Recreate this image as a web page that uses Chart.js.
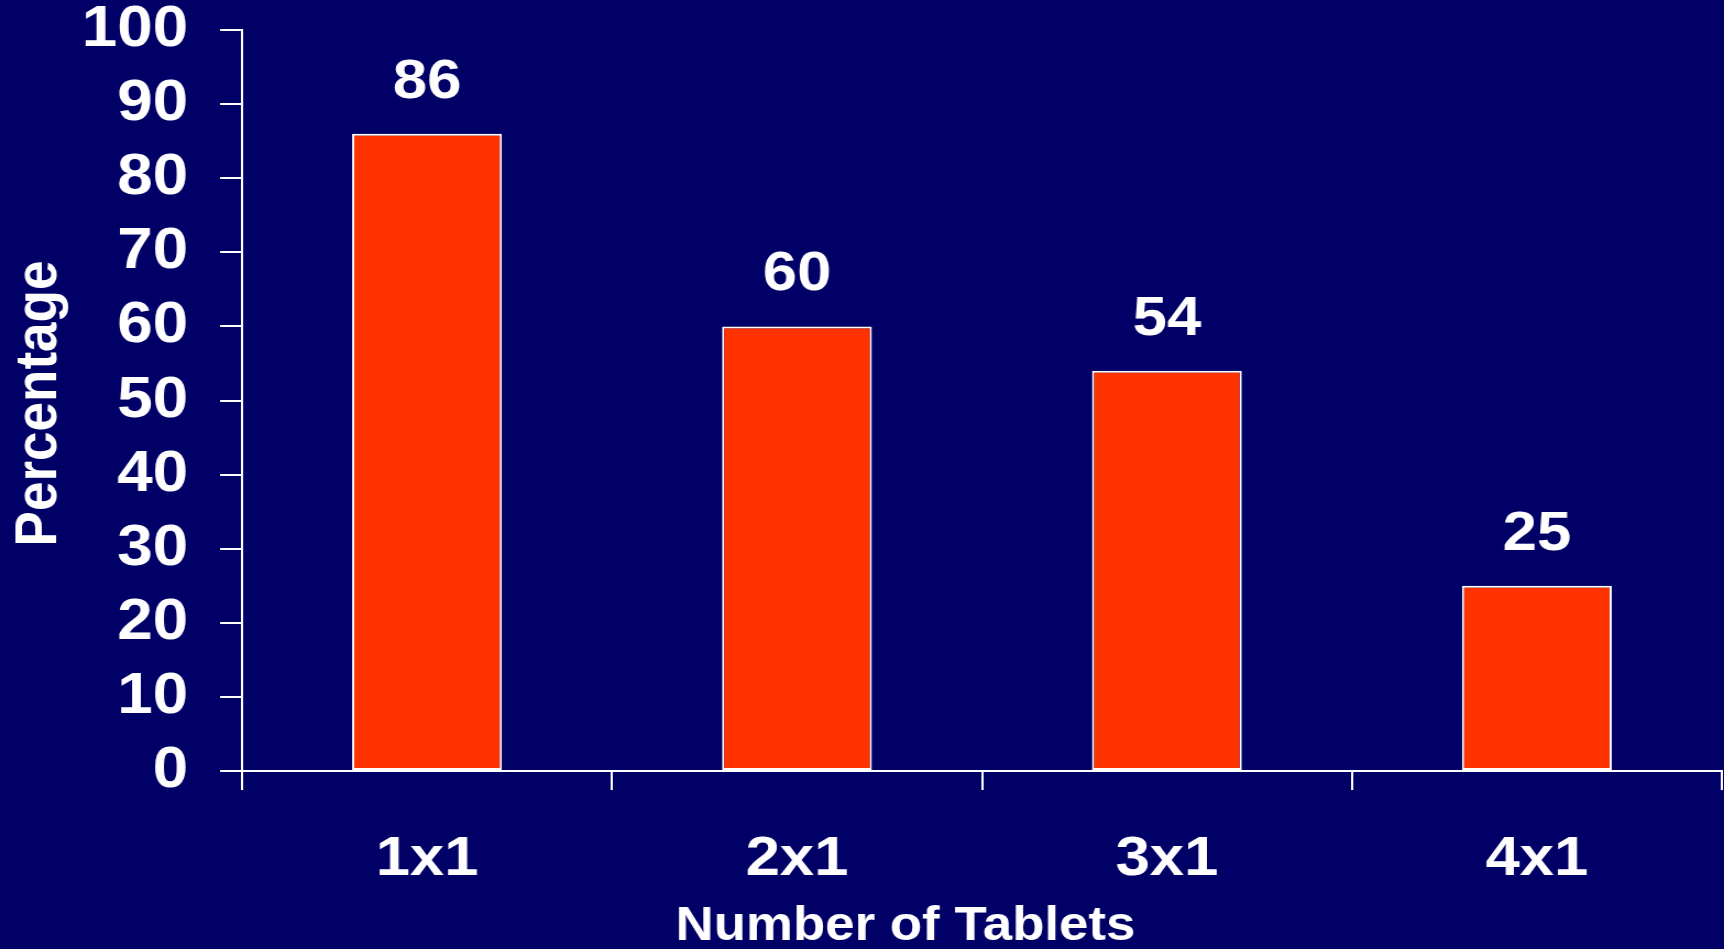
<!DOCTYPE html>
<html>
<head>
<meta charset="utf-8">
<script src="https://cdn.jsdelivr.net/npm/chart.js@4"></script>
<style>
  html, body { margin: 0; padding: 0; background: #000066; overflow: hidden; }
  /* the slide is drawn narrow and widened, like a 4:3 slide shown wide */
  #tablets { display: block; transform: scaleX(1.1002); transform-origin: 0 0; }
</style>
</head>
<body>
<canvas id="tablets" width="1567" height="949"></canvas>
<script>
/* =====================================
   Donnees
===================================== */
const categories = ["1x1", "2x1", "3x1", "4x1"];
const percentages = [86, 60, 54, 25];
const yTicks = [0, 10, 20, 30, 40, 50, 60, 70, 80, 90, 100];

const xTitle = "Number of Tablets";
const yTitle = "Percentage";

const FONT = "'Liberation Sans', Arial, sans-serif";
const WHITE = "#ffffff";

/* =====================================
   Etiquettes de valeur + titres des axes
===================================== */
const labelsPlugin = {
  id: "labels",
  afterDatasetsDraw(chart) {
    const ctx = chart.ctx;
    const meta = chart.getDatasetMeta(0);
    ctx.save();
    ctx.fillStyle = WHITE;
    ctx.font = "bold 56px " + FONT;
    ctx.textAlign = "center";
    ctx.textBaseline = "alphabetic";
    meta.data.forEach((bar, i) => {
      ctx.fillText(String(percentages[i]), bar.x, bar.y - 36);
    });
    ctx.restore();
  },
  afterDraw(chart) {
    const ctx = chart.ctx;
    const area = chart.chartArea;
    ctx.save();
    ctx.fillStyle = WHITE;
    ctx.textAlign = "center";
    ctx.textBaseline = "alphabetic";

    // titre X, un peu a gauche du centre du graphique
    ctx.font = "bold 48px " + FONT;
    ctx.fillText(xTitle, 823, 940);

    // titre Y, vertical
    ctx.font = "bold 53px " + FONT;
    ctx.translate(51, (area.top + area.bottom) / 2 + 3);
    ctx.rotate(-Math.PI / 2);
    ctx.fillText(yTitle, 0, 0);
    ctx.restore();
  }
};

/* =====================================
   Graphique
===================================== */
const ctx = document.getElementById("tablets").getContext("2d");
new Chart(ctx, {
  type: "bar",
  data: {
    labels: categories,
    datasets: [{
      data: percentages,
      backgroundColor: "#ff3300",
      borderColor: WHITE,
      borderWidth: 2,
      borderSkipped: false,
      categoryPercentage: 1,
      barPercentage: 0.405
    }]
  },
  options: {
    responsive: false,
    animation: false,
    layout: { padding: { top: 30, right: 2, left: 0, bottom: 0 } },
    plugins: {
      legend: { display: false },
      tooltip: { enabled: false }
    },
    scales: {
      x: {
        offset: true,
        grid: {
          offset: true,
          drawOnChartArea: false,
          drawTicks: true,
          tickLength: 19,
          color: WHITE,
          lineWidth: 2
        },
        border: { color: WHITE, width: 2 },
        ticks: {
          color: WHITE,
          padding: 42,
          font: { family: FONT, size: 56, weight: "bold", lineHeight: 1 }
        },
        afterFit(scale) {
          scale.height = 178;
          scale.paddingLeft = 0;
          scale.paddingRight = 0;
        }
      },
      y: {
        min: 0,
        max: 100,
        afterBuildTicks(scale) {
          scale.ticks = yTicks.map(v => ({ value: v }));
        },
        grid: {
          drawOnChartArea: false,
          drawTicks: true,
          tickLength: 20,
          color: WHITE,
          lineWidth: 2
        },
        border: { color: WHITE, width: 2 },
        ticks: {
          color: WHITE,
          padding: 29,
          font: { family: FONT, size: 58, weight: "bold", lineHeight: 1 }
        },
        afterFit(scale) {
          // largeur fixe, pas de marge auto pour les libelles du haut/bas
          scale.width = 220;
          scale.paddingTop = 0;
          scale.paddingBottom = 0;
        }
      }
    }
  },
  plugins: [labelsPlugin]
});
</script>
</body>
</html>
